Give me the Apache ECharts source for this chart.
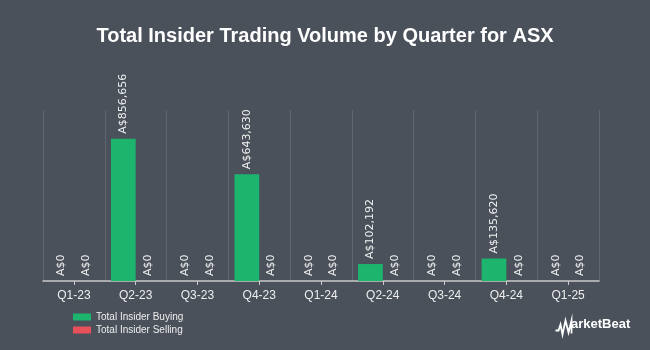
<!DOCTYPE html>
<html>
<head>
<meta charset="utf-8">
<script src="https://cdn.jsdelivr.net/npm/echarts@6/dist/echarts.min.js"></script>
<style>
  html, body { margin: 0; padding: 0; background: #4a515b; }
  #chart { width: 650px; height: 350px; }
</style>
</head>
<body>
<div id="chart"></div>
<script>
let quarters = ['Q1-23', 'Q2-23', 'Q3-23', 'Q4-23', 'Q1-24', 'Q2-24', 'Q3-24', 'Q4-24', 'Q1-25']
let buying = [0, 856656, 0, 643630, 0, 102192, 0, 135620, 0]
let selling = [0, 0, 0, 0, 0, 0, 0, 0, 0]

function money(v) {
    return 'A$' + Number(v).toLocaleString('en-US')
}

let barLabel = {
    show: true,
    position: 'top',
    rotate: 90,
    align: 'left',
    verticalAlign: 'middle',
    distance: 5,
    color: '#f0f0f0',
    fontFamily: 'DejaVu Sans',
    fontSize: 11,
    formatter: p => money(p.value)
}

// 初始化图表
let myChart = echarts.init(document.getElementById('chart'))
myChart.setOption({
    backgroundColor: '#4a515b',
    animation: false,
    title: {
        text: 'Total Insider Trading Volume by Quarter for ASX',
        left: 'center',
        top: 21,
        textStyle: {
            color: '#ffffff',
            fontFamily: '"Liberation Sans", Arial, sans-serif',
            fontWeight: 'bold',
            fontSize: 20
        }
    },
    legend: {
        orient: 'vertical',
        left: 68,
        top: 307,
        itemWidth: 18,
        itemHeight: 7,
        itemGap: 3,
        icon: 'rect',
        textStyle: { color: '#eeeeee', fontSize: 10, fontFamily: 'Liberation Sans' },
        data: ['Total Insider Buying', 'Total Insider Selling']
    },
    grid: { left: 43, right: 51, top: 110, bottom: 69 },
    xAxis: {
        type: 'category',
        data: quarters,
        axisLine: { lineStyle: { color: '#c9c9c9', width: 1.5 } },
        axisTick: { show: true, alignWithLabel: true, length: 4, lineStyle: { color: '#c9c9c9' } },
        axisLabel: { color: '#eeeeee', fontSize: 12, fontFamily: 'Liberation Sans', margin: 9 },
        splitLine: { show: true, lineStyle: { color: '#5f6670' } }
    },
    yAxis: {
        type: 'value',
        min: 0,
        max: 1030000,
        show: false,
        splitLine: { show: false }
    },
    series: [
        {
            name: 'Total Insider Buying',
            type: 'bar',
            data: buying,
            barGap: '0%',
            barCategoryGap: '20%',
            itemStyle: { color: '#1db46e' },
            label: barLabel
        },
        {
            name: 'Total Insider Selling',
            type: 'bar',
            data: selling,
            itemStyle: { color: '#e8505b' },
            label: barLabel
        }
    ],
    graphic: [
        {
            // logo pulse "M"
            type: 'polyline',
            left: 553,
            top: 318,
            shape: {
                points: [[0, 10], [3, 10], [5, 4], [7, 14], [10, 0], [13, 12], [16, 0], [16, 13]]
            },
            style: { stroke: '#ffffff', lineWidth: 1.8, fill: null }
        },
        {
            type: 'text',
            left: 571,
            top: 318,
            style: {
                text: 'arketBeat',
                fill: '#ffffff',
                font: 'bold 13px "Liberation Sans", sans-serif'
            }
        }
    ]
})
</script>
</body>
</html>
